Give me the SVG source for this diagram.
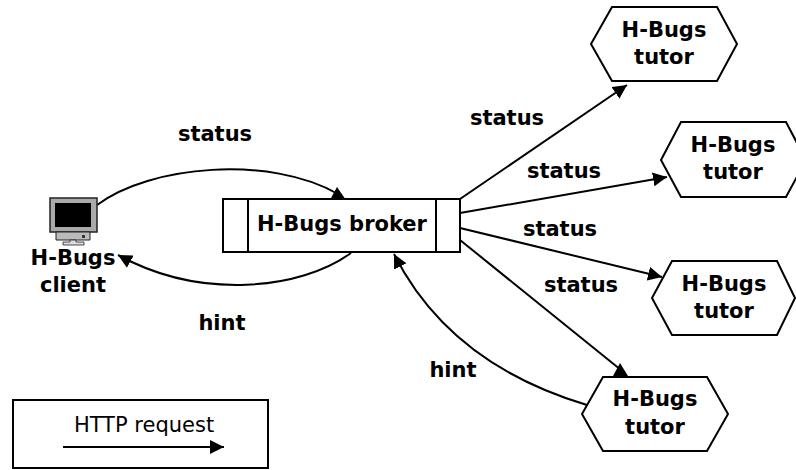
<svg xmlns="http://www.w3.org/2000/svg" width="796" height="470" viewBox="0 0 796 470">
<style>
text{font-family:"DejaVu Sans",sans-serif;font-size:21px;font-weight:bold;fill:#000;text-anchor:middle}
.n{fill:#fff;stroke:#000;stroke-width:2}
.c{fill:none;stroke:#000;stroke-width:2}
.h{fill:#000}
</style>
<defs>
<marker id="a" markerUnits="userSpaceOnUse" markerWidth="16" markerHeight="14" refX="14" refY="7" orient="auto"><path d="M0 0L14 7L0 14z" fill="#000"/></marker>
</defs>
<rect width="796" height="470" fill="#fff"/>
<g id="connectors">
<path class="c" d="M97 205C150 165 270 155 338 194"/>
<path class="h" d="M337 187L346 200H330z"/>
<path class="c" marker-end="url(#a)" d="M351 253C300 290 200 300 118 255"/>
<path class="c" marker-end="url(#a)" d="M460 199L627 85"/>
<path class="c" marker-end="url(#a)" d="M460 213L667 177"/>
<path class="c" marker-end="url(#a)" d="M460 228L662 277"/>
<path class="c" d="M460 240L621 370"/>
<path class="h" d="M620 363L628 376H613z"/>
<path class="c" marker-end="url(#a)" d="M587 405C520 385 440 345 394 254"/>
</g>
<g id="client">
<rect x="50" y="198" width="47" height="34" fill="#aaa" stroke="#222" stroke-width="1.5"/>
<rect x="55" y="203" width="36" height="24" fill="#000"/>
<path d="M56 232H90V240H56z" fill="#bbb" stroke="#222"/>
<path d="M70 240H76V242H84V245H63V242H70z" fill="#ddd" stroke="#222" stroke-width="0.8"/>
<rect x="82" y="235" width="3" height="3" fill="#333"/>
<text x="73" y="265">H-Bugs</text>
<text x="73" y="292">client</text>
</g>
<g id="broker">
<rect class="n" x="223" y="199" width="237" height="53"/>
<path class="c" d="M248 199V252M436 199V252"/>
<text x="342" y="231">H-Bugs broker</text>
</g>
<g id="tutor1">
<path class="n" d="M612 7H717L737 44L717 81H612L591 44z"/>
<text x="664" y="37">H-Bugs</text><text x="664" y="64">tutor</text>
</g>
<g id="tutor2">
<path class="n" d="M681 122H786L806 160L786 197H681L661 160z"/>
<text x="733" y="152">H-Bugs</text><text x="733" y="179">tutor</text>
</g>
<g id="tutor3">
<path class="n" d="M672 261H777L795 298L777 335H672L652 298z"/>
<text x="724" y="291">H-Bugs</text><text x="724" y="318">tutor</text>
</g>
<g id="tutor4">
<path class="n" d="M603 377H707L728 414L707 451H603L582 414z"/>
<text x="655" y="406">H-Bugs</text><text x="655" y="434">tutor</text>
</g>
<g id="labels">
<text x="215" y="141">status</text>
<text x="222" y="330">hint</text>
<text x="507" y="125">status</text>
<text x="564" y="178">status</text>
<text x="560" y="236">status</text>
<text x="581" y="292">status</text>
<text x="453" y="377">hint</text>
</g>
<g id="legend">
<rect x="13" y="400" width="255" height="68" fill="#fff" stroke="#000" stroke-width="2"/>
<text x="144" y="432" style="font-weight:normal">HTTP request</text>
<path class="c" marker-end="url(#a)" d="M63 447H224"/>
</g>
</svg>
